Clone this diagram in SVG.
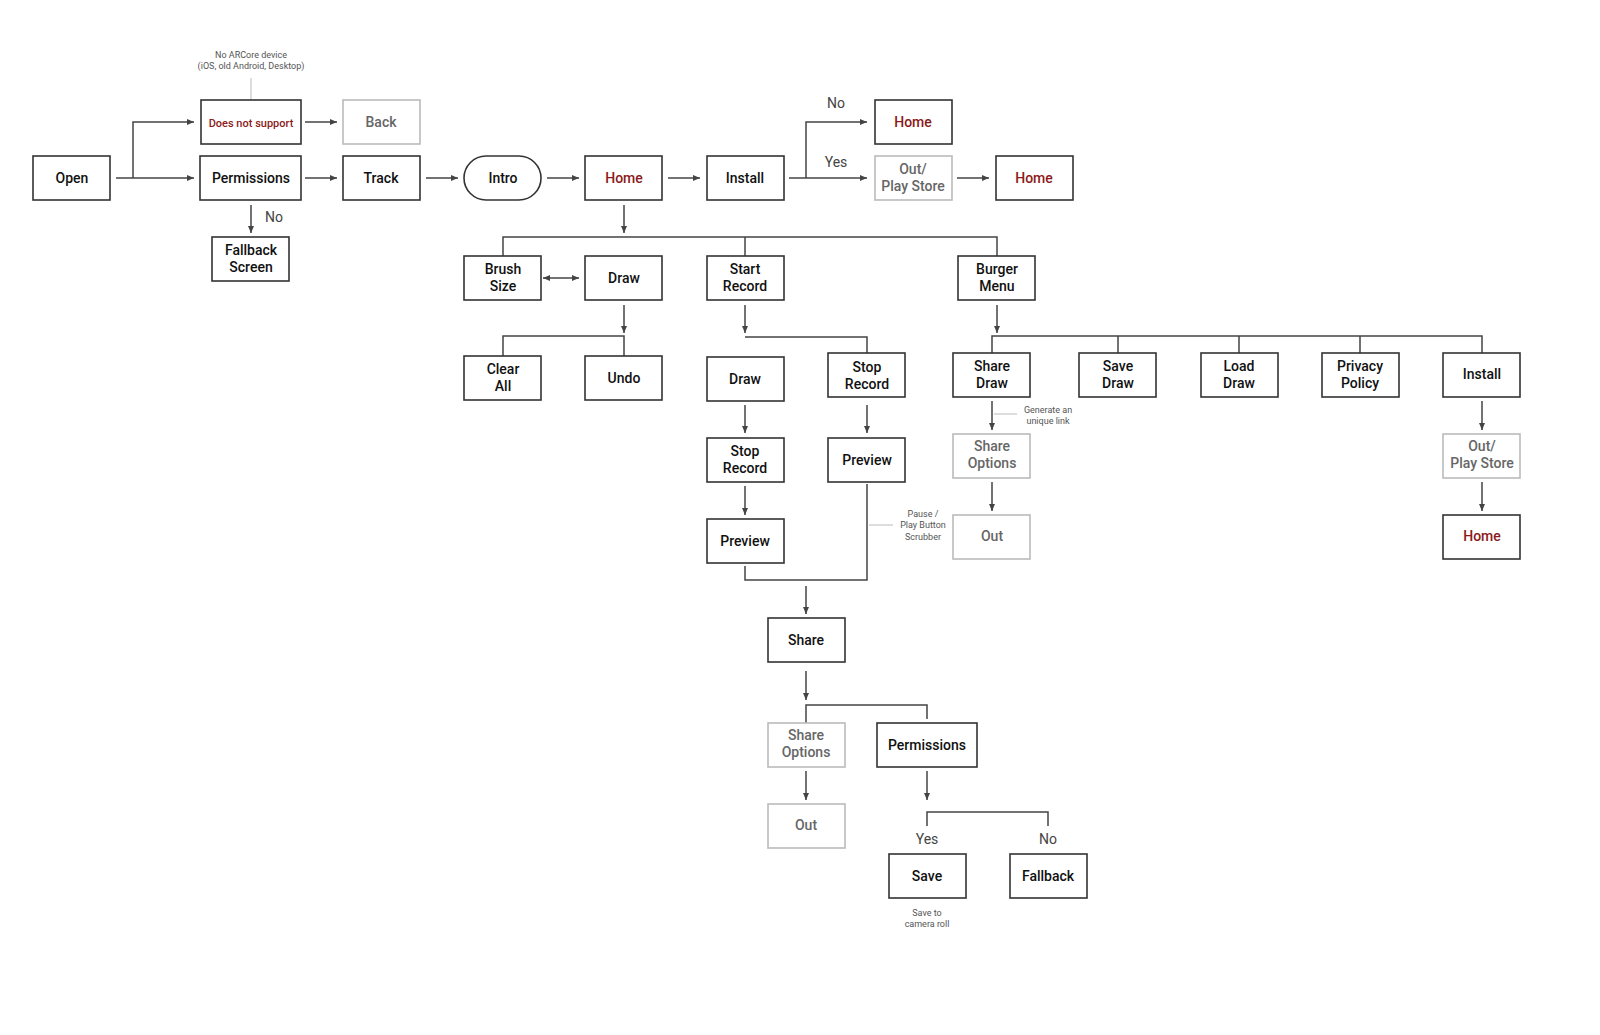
<svg xmlns="http://www.w3.org/2000/svg" width="1600" height="1035" viewBox="0 0 1600 1035">
<style>
.b rect{fill:#fff;stroke:#333;stroke-width:1.6}
.g rect{fill:#fff;stroke:#bbb;stroke-width:1.6}
text{font-family:Roboto,"Liberation Sans",sans-serif;font-size:14px;fill:#111;text-anchor:middle;font-weight:500}
.g text{fill:#666}
.r text,text.r{fill:#8b1a1a}
.c path{fill:none;stroke:#444;stroke-width:1.5}
.c path.a{marker-end:url(#ar)}
.c path.n{stroke:#bbb;stroke-width:1}
.l{fill:#444;font-size:14px;font-weight:400}
.s{fill:#555;font-size:9px;font-weight:400}
</style>
<defs><marker id="ar" markerWidth="8" markerHeight="8" refX="7" refY="4" orient="auto" markerUnits="userSpaceOnUse"><path d="M0,1 L7,4 L0,7 Z" fill="#444"/></marker></defs>
<rect width="1600" height="1035" fill="#fff"/>
<g class="c">
<path class="n" d="M251,78V100"/>
<path class="a" d="M116,178H194"/><path class="a" d="M133,178V122H194"/>
<path class="a" d="M305,122H337"/>
<path class="a" d="M305,178H337"/><path class="a" d="M426,178H458"/><path class="a" d="M547,178H579"/><path class="a" d="M668,178H700"/>
<path class="a" d="M789,178H867"/><path class="a" d="M806,178V122H867"/><path class="a" d="M957,178H989"/>
<path class="a" d="M251,205V233"/>
<path class="a" d="M624,205V233"/><path d="M503,256V237H997V256M745,237V256"/>
<path class="a" d="M547,278H579"/><path d="M551,278H545" marker-end="url(#ar)" transform="translate(-2,0)"/>
<path class="a" d="M624,305V333"/><path d="M503,356V336H624V356"/>
<path class="a" d="M745,305V333"/><path d="M745,337H867V353"/>
<path class="a" d="M745,405V433"/><path class="a" d="M745,486V515"/>
<path class="a" d="M867,405V433"/>
<path d="M745,566V580H867V484"/><path class="a" d="M806,586V614"/>
<path class="n" d="M869,525H893"/>
<path class="a" d="M806,671V700"/><path d="M806,723V705H927V719"/>
<path class="a" d="M806,771V800"/>
<path class="a" d="M927,771V800"/><path d="M927,826V812H1048V826"/>
<path class="a" d="M997,305V333"/><path d="M992,353V336H1482V353M1118,336V353M1239,336V353M1360,336V353"/>
<path class="a" d="M992,401V430"/><path class="n" d="M994,414H1017"/>
<path class="a" d="M992,482V511"/>
<path class="a" d="M1482,401V430"/><path class="a" d="M1482,482V511"/>
</g>
<text class="s" x="251" y="58">No ARCore device</text>
<text class="s" x="251" y="69">(iOS, old Android, Desktop)</text>
<text class="l" x="274" y="222">No</text>
<text class="l" x="836" y="108">No</text>
<text class="l" x="836" y="167">Yes</text>
<text class="s" x="1048" y="413">Generate an</text><text class="s" x="1048" y="424">unique link</text>
<text class="s" x="923" y="517">Pause /</text><text class="s" x="923" y="528">Play Button</text><text class="s" x="923" y="540">Scrubber</text>
<text class="l" x="927" y="844">Yes</text>
<text class="l" x="1048" y="844">No</text>
<text class="s" x="927" y="916">Save to</text><text class="s" x="927" y="927">camera roll</text>
<g id="open" class="b"><rect x="33" y="156" width="77" height="44"/><text x="72" y="183">Open</text></g>
<g id="dns" class="b r"><rect x="201" y="100" width="100" height="44"/><text x="251" y="127" style="font-size:11px">Does not support</text></g>
<g id="back" class="g"><rect x="343" y="100" width="77" height="44"/><text x="381" y="127">Back</text></g>
<g id="perm" class="b"><rect x="200" y="156" width="101" height="44"/><text x="251" y="183">Permissions</text></g>
<g id="fallbackscreen" class="b"><rect x="212" y="237" width="77" height="44"/><text x="251" y="255">Fallback</text><text x="251" y="272">Screen</text></g>
<g id="track" class="b"><rect x="343" y="156" width="77" height="44"/><text x="381" y="183">Track</text></g>
<g id="intro" class="b"><rect x="464" y="156" width="77" height="44" rx="22"/><text x="503" y="183">Intro</text></g>
<g id="home1" class="b r"><rect x="585" y="156" width="77" height="44"/><text x="624" y="183">Home</text></g>
<g id="install1" class="b"><rect x="707" y="156" width="77" height="44"/><text x="745" y="183">Install</text></g>
<g id="home2" class="b r"><rect x="875" y="100" width="77" height="44"/><text x="913" y="127">Home</text></g>
<g id="out1" class="g"><rect x="875" y="156" width="77" height="44"/><text x="913" y="174">Out/</text><text x="913" y="191">Play Store</text></g>
<g id="home3" class="b r"><rect x="996" y="156" width="77" height="44"/><text x="1034" y="183">Home</text></g>
<g id="brush" class="b"><rect x="464" y="256" width="77" height="44"/><text x="503" y="274">Brush</text><text x="503" y="291">Size</text></g>
<g id="draw1" class="b"><rect x="585" y="256" width="77" height="44"/><text x="624" y="283">Draw</text></g>
<g id="startrec" class="b"><rect x="707" y="256" width="77" height="44"/><text x="745" y="274">Start</text><text x="745" y="291">Record</text></g>
<g id="burger" class="b"><rect x="958" y="256" width="77" height="44"/><text x="997" y="274">Burger</text><text x="997" y="291">Menu</text></g>
<g id="clear" class="b"><rect x="464" y="356" width="77" height="44"/><text x="503" y="374">Clear</text><text x="503" y="391">All</text></g>
<g id="undo" class="b"><rect x="585" y="356" width="77" height="44"/><text x="624" y="383">Undo</text></g>
<g id="draw2" class="b"><rect x="707" y="357" width="77" height="44"/><text x="745" y="384">Draw</text></g>
<g id="stoprec1" class="b"><rect x="828" y="353" width="77" height="44"/><text x="867" y="372">Stop</text><text x="867" y="389">Record</text></g>
<g id="stoprec2" class="b"><rect x="707" y="438" width="77" height="44"/><text x="745" y="456">Stop</text><text x="745" y="473">Record</text></g>
<g id="preview1" class="b"><rect x="828" y="438" width="77" height="44"/><text x="867" y="465">Preview</text></g>
<g id="preview2" class="b"><rect x="707" y="519" width="77" height="44"/><text x="745" y="546">Preview</text></g>
<g id="share" class="b"><rect x="768" y="618" width="77" height="44"/><text x="806" y="645">Share</text></g>
<g id="shareopt1" class="g"><rect x="768" y="723" width="77" height="44"/><text x="806" y="740">Share</text><text x="806" y="757">Options</text></g>
<g id="perm2" class="b"><rect x="877" y="723" width="100" height="44"/><text x="927" y="750">Permissions</text></g>
<g id="out2" class="g"><rect x="768" y="804" width="77" height="44"/><text x="806" y="830">Out</text></g>
<g id="save" class="b"><rect x="889" y="854" width="77" height="44"/><text x="927" y="881">Save</text></g>
<g id="fallback" class="b"><rect x="1010" y="854" width="77" height="44"/><text x="1048" y="881">Fallback</text></g>
<g id="sharedraw" class="b"><rect x="953" y="353" width="77" height="44"/><text x="992" y="371">Share</text><text x="992" y="388">Draw</text></g>
<g id="savedraw" class="b"><rect x="1079" y="353" width="77" height="44"/><text x="1118" y="371">Save</text><text x="1118" y="388">Draw</text></g>
<g id="loaddraw" class="b"><rect x="1201" y="353" width="77" height="44"/><text x="1239" y="371">Load</text><text x="1239" y="388">Draw</text></g>
<g id="privacy" class="b"><rect x="1322" y="353" width="77" height="44"/><text x="1360" y="371">Privacy</text><text x="1360" y="388">Policy</text></g>
<g id="install2" class="b"><rect x="1443" y="353" width="77" height="44"/><text x="1482" y="379">Install</text></g>
<g id="shareopt2" class="g"><rect x="953" y="434" width="77" height="44"/><text x="992" y="451">Share</text><text x="992" y="468">Options</text></g>
<g id="out3" class="g"><rect x="953" y="515" width="77" height="44"/><text x="992" y="541">Out</text></g>
<g id="out4" class="g"><rect x="1443" y="434" width="77" height="44"/><text x="1482" y="451">Out/</text><text x="1482" y="468">Play Store</text></g>
<g id="home4" class="b r"><rect x="1443" y="515" width="77" height="44"/><text x="1482" y="541">Home</text></g>
</svg>
